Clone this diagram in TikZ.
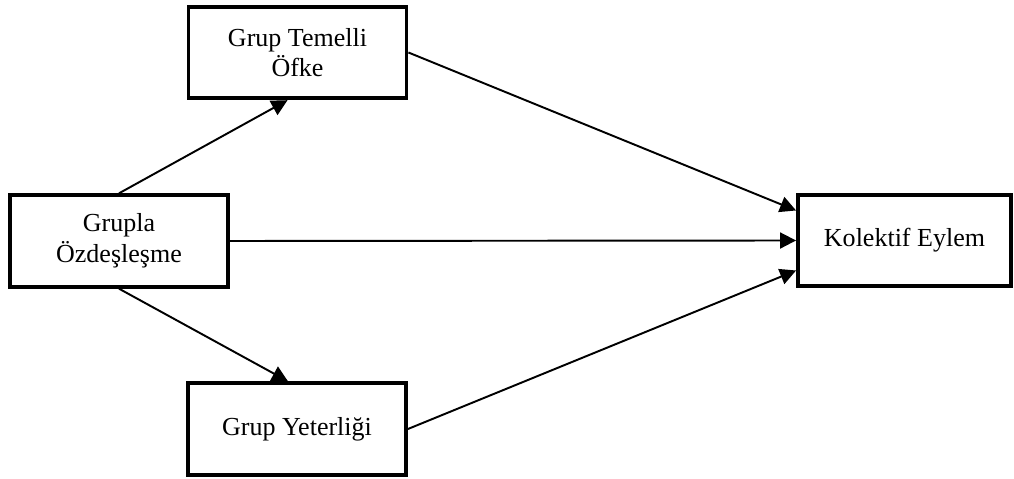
\documentclass[tikz,border=0pt]{standalone}
\usepackage{fontspec}
\setmainfont{Liberation Serif}
\usetikzlibrary{arrows.meta}

\begin{document}
\begin{tikzpicture}[
		kutu/.style={draw, line width=2.2pt, align=center, minimum width=4.36cm, minimum height=1.83cm, font=\fontsize{14.8}{17.5}\selectfont, inner sep=0pt},
		ok/.style={line width=1.1pt, -{Triangle[length=0.32cm,width=0.32cm]}}
	]
		\useasboundingbox (0,0) rectangle (20.28,9.58);
	
		\node[kutu] (ofke) at (5.95,8.53) {Grup Temelli\\Öfke};
		\node[kutu] (grupla) at (2.38,4.76) {Grupla\\Özdeşleşme};
		\node[kutu] (yeter) at (5.94,1.0) {Grup Yeterliği};
		\node[kutu, minimum width=4.26cm] (kolektif) at (18.09,4.77) {Kolektif Eylem};
	
	
		\draw[ok] (grupla.north) -- ([xshift=-0.2cm]ofke.south);
		\draw[ok] (grupla.south) -- ([xshift=-0.18cm]yeter.north);
	
		\draw[ok] (ofke.east) -- ([yshift=0.6cm]kolektif.west);
		\draw[ok] (grupla.east) -- (kolektif.west);
		\draw[ok] (yeter.east) -- ([yshift=-0.6cm]kolektif.west);
	
	\end{tikzpicture}
\end{document}
